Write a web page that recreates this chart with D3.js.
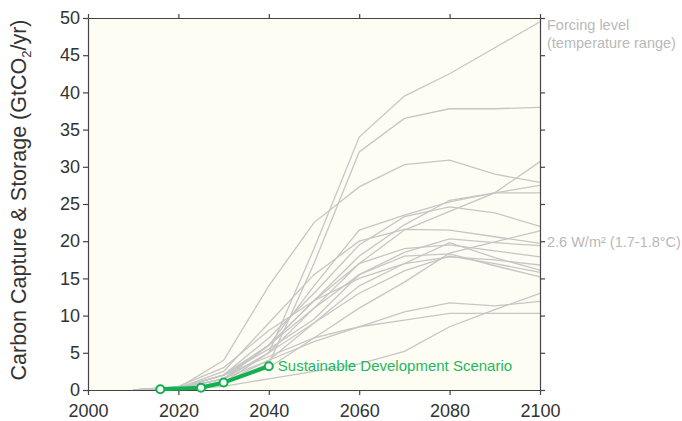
<!DOCTYPE html>
<html>
<head>
<meta charset="utf-8">
<script src="https://cdn.jsdelivr.net/npm/d3@7"></script>
<style>
  html, body { margin: 0; padding: 0; background: #ffffff; }
  svg { display: block; font-family: "Liberation Sans", Arial, Helvetica, sans-serif; }
</style>
</head>
<body>
<svg id="chart" width="682" height="421"></svg>
<script>
// Decadal model years shared by every scenario pathway
const years = [2010, 2020, 2030, 2040, 2050, 2060, 2070, 2080, 2090, 2100];

// 2.6 W/m² scenario pathways (GtCO2/yr captured and stored)
const scenarioA = [0, 0.3, 1.5, 5, 19, 34, 39.5, 42.5, 46, 49.5];
const scenarioB = [0, 0.2, 1, 3.5, 17, 32, 36.5, 37.8, 37.8, 38];
const scenarioC = [0, 0.3, 4, 14, 22.5, 27.3, 30.3, 30.9, 29, 27.9];
const scenarioD = [0, 0.2, 1, 5, 11, 17, 21.5, 24, 26.5, 30.7];
const scenarioE = [0, 0.3, 2, 6, 12, 18, 22.2, 25.5, 26.5, 26.5];
const scenarioF = [0, 0.3, 2, 7, 13, 19.5, 23.3, 24.6, 23.8, 22];
const scenarioG = [0, 0.2, 1, 3, 7, 11, 14.5, 18.4, 19.9, 21.4];
const scenarioH = [0, 0.3, 2.5, 9, 15.5, 20, 21.6, 21.5, 20.6, 19.7];
const scenarioI = [0, 0.2, 1.5, 6, 11, 15.5, 18.5, 20.3, 19.8, 19.4];
const scenarioJ = [0, 0.3, 2, 6, 12, 17, 19, 19.5, 18.7, 17.9];
const scenarioK = [0, 0.2, 1, 4, 9, 14, 17, 17.9, 17.5, 16.8];
const scenarioL = [0, 0.5, 3, 8, 12, 15, 17, 19.8, 17.8, 16.1];
const scenarioM = [0, 0.2, 1.5, 5, 9, 13, 16, 18, 17, 15.8];
const scenarioN = [0, 0.3, 2, 5.5, 9.5, 15.5, 18, 18.3, 16.7, 15.2];
const scenarioO = [0, 0.1, 0.5, 1.5, 2.5, 3.5, 5.2, 8.5, 10.8, 13];
const scenarioP = [0, 0.2, 1.5, 4, 6.5, 8.5, 10.5, 11.7, 11.3, 11.9];
const scenarioQ = [0, 0.3, 2, 4.5, 7, 8.5, 9.4, 10.3, 10.3, 10.3];
const scenarioS = [0, 0.2, 1.5, 6, 14, 21.5, 23.5, 25.3, 26.5, 27.5];

const scenarios = [scenarioA, scenarioB, scenarioC, scenarioD, scenarioE, scenarioF,
  scenarioG, scenarioH, scenarioI, scenarioJ, scenarioK, scenarioL, scenarioM,
  scenarioN, scenarioO, scenarioP, scenarioQ, scenarioS];

// Sustainable Development Scenario
const sdsYears = [2016, 2025, 2030, 2040];
const sdsValues = [0.1, 0.3, 1.0, 3.2];
const sdsLabel = "Sustainable Development Scenario";

// Axis ticks
const xTicks = [2000, 2020, 2040, 2060, 2080, 2100];
const yTicks = [0, 5, 10, 15, 20, 25, 30, 35, 40, 45, 50];

const margin = { top: 18, right: 142, bottom: 31, left: 88 };
const W = 682, H = 421;
const iw = W - margin.left - margin.right;
const ih = H - margin.top - margin.bottom;

const svg = d3.select("#chart");
const g = svg.append("g").attr("transform", `translate(${margin.left},${margin.top})`);

const x = d3.scaleLinear().domain([2000, 2100]).range([0, iw]);
const y = d3.scaleLinear().domain([0, 50]).range([ih, 0]);

// plot background
g.append("rect").attr("width", iw).attr("height", ih).attr("fill", "#fdfdf3");

// scenario pathways
const line = d3.line().x(d => x(d[0])).y(d => y(d[1]));
g.append("g").selectAll("path").data(scenarios).join("path")
  .attr("d", vals => line(years.map((yr, i) => [yr, vals[i]])))
  .attr("fill", "none")
  .attr("stroke", "#c6c6c6")
  .attr("stroke-width", 1.3);

// axes
const axisColor = "#444";
function styleAxis(sel, showText) {
  sel.select(".domain").attr("stroke", axisColor).attr("stroke-width", 1.2);
  sel.selectAll(".tick line").attr("stroke", axisColor).attr("stroke-width", 1.2);
  sel.selectAll(".tick text").attr("fill", "#333").attr("font-size", 18)
    .style("display", showText ? null : "none");
}
g.append("g").attr("transform", `translate(0,${ih})`)
  .call(d3.axisBottom(x).tickValues(xTicks).tickFormat(d3.format("d")).tickSize(5).tickSizeOuter(0).tickPadding(9))
  .call(s => styleAxis(s, true));
g.append("g")
  .call(d3.axisTop(x).tickValues(xTicks).tickSize(4).tickSizeOuter(0))
  .call(s => styleAxis(s, false));
g.append("g")
  .call(d3.axisLeft(y).tickValues(yTicks).tickSize(5).tickSizeOuter(0).tickPadding(3))
  .call(s => styleAxis(s, true));
g.append("g").attr("transform", `translate(${iw},0)`)
  .call(d3.axisRight(y).tickValues(yTicks).tickSize(5).tickSizeOuter(0))
  .call(s => styleAxis(s, false));

// SDS line and markers
const sds = sdsYears.map((yr, i) => [yr, sdsValues[i]]);
g.append("path").attr("d", line(sds))
  .attr("fill", "none").attr("stroke", "#12b050").attr("stroke-width", 4);
g.append("g").selectAll("circle").data(sds).join("circle")
  .attr("cx", d => x(d[0])).attr("cy", d => y(d[1])).attr("r", 4)
  .attr("fill", "#ffffff").attr("stroke", "#12b050").attr("stroke-width", 2);
const last = sds[sds.length - 1];
g.append("text").attr("x", x(last[0]) + 9).attr("y", y(last[1]))
  .attr("dy", "0.35em").attr("font-size", 15).attr("fill", "#1fb760")
  .text(sdsLabel);

// right-hand annotations
const note = g.append("g").attr("fill", "#b9b9b9").attr("font-size", 14.5);
note.append("text").attr("x", iw + 7).attr("y", y(50) + 12).text("Forcing level");
note.append("text").attr("x", iw + 7).attr("y", y(50) + 30).text("(temperature range)");
note.append("text").attr("x", iw + 7).attr("y", y(19.9)).attr("dy", "0.35em")
  .text("2.6 W/m² (1.7-1.8°C)");

// y-axis title
const yt = svg.append("text")
  .attr("transform", `translate(26,${margin.top + ih / 2 - 4}) rotate(-90)`)
  .attr("text-anchor", "middle").attr("font-size", 21.5).attr("fill", "#333");
yt.append("tspan").text("Carbon Capture & Storage (GtCO");
yt.append("tspan").attr("font-size", 13).attr("dy", 5).text("2");
yt.append("tspan").attr("dy", -5).text("/yr)");
</script>
</body>
</html>
